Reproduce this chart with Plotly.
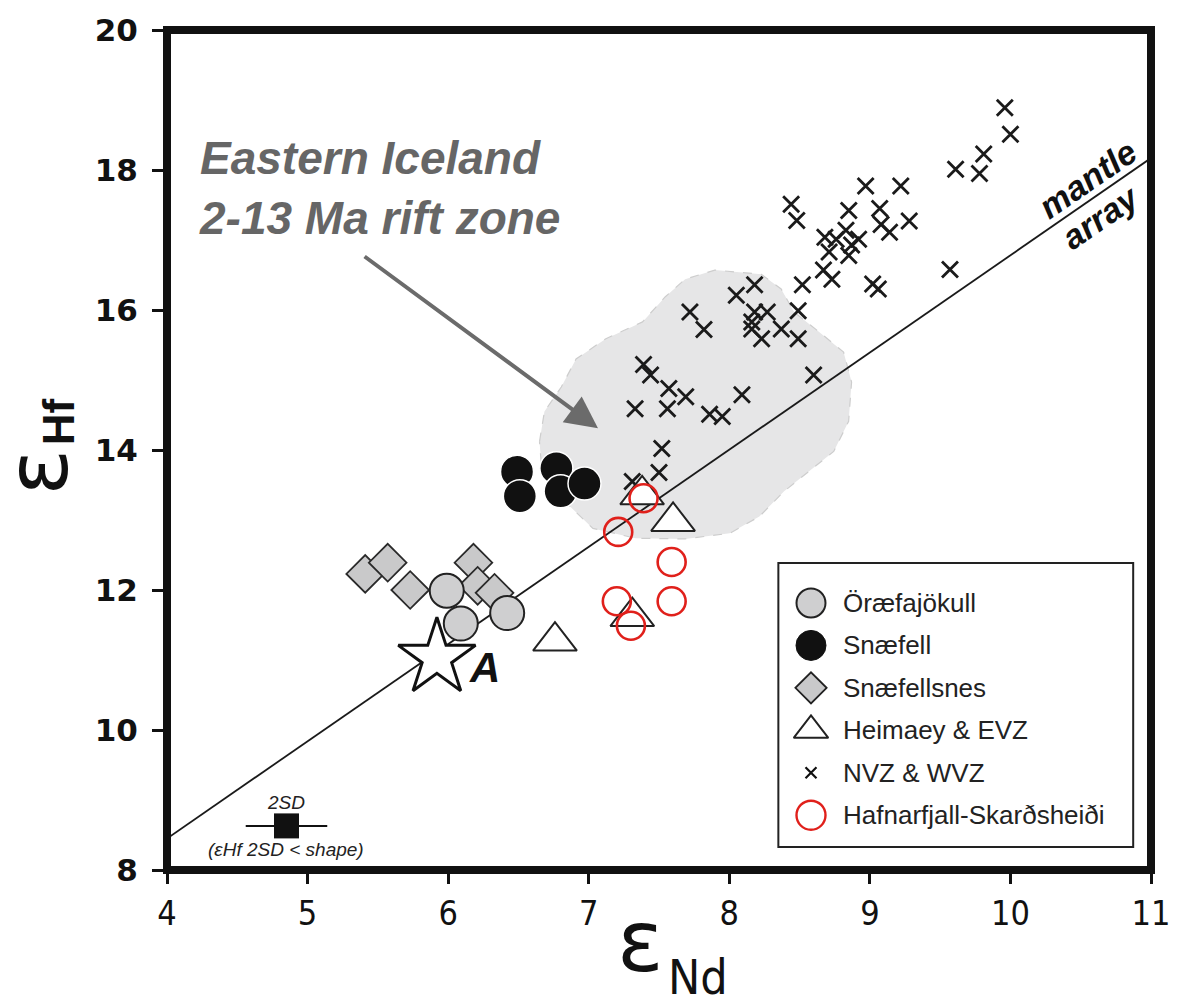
import plotly.graph_objects as go

# ---------------- data ----------------
# NVZ & WVZ (crosses)
nvz_x = [9.96, 10.00, 9.81, 9.78, 9.61, 8.97, 9.22, 8.44, 8.48, 8.85, 9.07, 9.08, 9.14, 9.28,
         8.68, 8.76, 8.83, 8.92, 8.87, 8.71, 8.85, 8.67, 8.73, 9.02, 9.06, 9.57, 8.52, 8.18,
         8.05, 7.72, 7.82, 8.18, 8.27, 8.16, 8.16, 8.23, 8.37, 8.49, 8.49, 7.39, 7.44, 8.60,
         7.57, 7.69, 7.33, 7.56, 8.09, 7.86, 7.95, 7.52, 7.50, 7.31]
nvz_y = [18.89, 18.51, 18.23, 17.95, 18.01, 17.77, 17.77, 17.51, 17.28, 17.42, 17.45, 17.22, 17.11, 17.27,
         17.04, 17.01, 17.14, 17.01, 16.93, 16.83, 16.78, 16.57, 16.44, 16.37, 16.30, 16.58, 16.36, 16.36,
         16.21, 15.97, 15.72, 15.97, 15.97, 15.83, 15.73, 15.59, 15.73, 15.99, 15.59, 15.22, 15.07, 15.07,
         14.88, 14.76, 14.59, 14.59, 14.79, 14.51, 14.48, 14.02, 13.68, 13.55]

# Snæfell (black circles)
snaefell_x = [6.49, 6.51, 6.77, 6.80, 6.97]
snaefell_y = [13.69, 13.34, 13.74, 13.41, 13.52]

# Öræfajökull (grey circles)
oraefa_x = [5.99, 6.09, 6.42]
oraefa_y = [11.99, 11.52, 11.67]

# Snæfellsnes (grey diamonds)
snes_x = [5.41, 5.57, 5.73, 6.18, 6.21, 6.33]
snes_y = [12.23, 12.39, 12.00, 12.39, 12.06, 11.96]

# Heimaey & EVZ (open triangles)
heim_x = [7.38, 7.60, 7.31, 6.76]
heim_y = [13.36, 12.98, 11.62, 11.27]

# Hafnarfjall-Skarðsheiði (red open circles)
haf_x = [7.39, 7.21, 7.59, 7.20, 7.59, 7.30]
haf_y = [13.31, 12.83, 12.40, 11.84, 11.84, 11.49]

# Star "A"
star_x = [5.92]
star_y = [11.03]

# Mantle array
mantle_x = [4.0, 11.0]
mantle_y = [8.45, 18.17]

# Eastern Iceland 2-13 Ma rift zone field (outline)
blob_x = [6.650, 6.685, 6.805, 6.910, 7.122, 7.383, 7.545, 7.686, 7.897, 8.228, 8.369, 8.461,
          8.637, 8.813, 8.870, 8.849, 8.743, 8.567, 8.390, 8.214, 8.003, 7.686, 7.333, 7.030,
          6.791, 6.664, 6.650]
blob_y = [14.12, 14.55, 14.90, 15.30, 15.59, 15.83, 16.19, 16.44, 16.57, 16.51, 16.30, 15.97,
          15.69, 15.40, 14.97, 14.41, 13.98, 13.69, 13.41, 13.05, 12.81, 12.73, 12.74, 12.88,
          13.34, 13.77, 14.12]

# 2SD error symbol
sd_x = [4.85]
sd_y = [8.63]
sd_err = [0.29]

x_ticks = [4, 5, 6, 7, 8, 9, 10, 11]
y_ticks = [8, 10, 12, 14, 16, 18, 20]

legend_names = ["Öræfajökull", "Snæfell", "Snæfellsnes", "Heimaey & EVZ", "NVZ & WVZ",
                "Hafnarfjall-Skarðsheiði"]

SANS = "Liberation Sans, Arial, sans-serif"
NARROW = "Liberation Sans Narrow, Arial Narrow, DejaVu Sans Condensed, Liberation Sans, sans-serif"

# ---------------- figure ----------------
fig = go.Figure()

fig.add_trace(go.Scatter(x=blob_x, y=blob_y, mode="lines", fill="toself", fillcolor="#e6e6e7",
                         line=dict(color="#cdcdcd", width=1.2, dash="dash"), hoverinfo="skip"))
fig.add_trace(go.Scatter(x=mantle_x, y=mantle_y, mode="lines",
                         line=dict(color="#1a1a1a", width=1.8)))
fig.add_trace(go.Scatter(x=nvz_x, y=nvz_y, mode="markers", name=legend_names[4],
                         marker=dict(symbol="x-thin", size=16, line=dict(color="#1a1a1a", width=2.8))))
fig.add_trace(go.Scatter(x=heim_x, y=heim_y, mode="markers", name=legend_names[3],
                         marker=dict(symbol="triangle-up", size=38, color="white",
                                     line=dict(color="#222", width=2))))
fig.add_trace(go.Scatter(x=haf_x, y=haf_y, mode="markers", name=legend_names[5],
                         marker=dict(symbol="circle-open", size=28, color="#e0201b",
                                     line=dict(color="#e0201b", width=2.6))))
fig.add_trace(go.Scatter(x=snaefell_x, y=snaefell_y, mode="markers", name=legend_names[1],
                         marker=dict(symbol="circle", size=33, color="#111",
                                     line=dict(color="white", width=1.5))))
fig.add_trace(go.Scatter(x=snes_x, y=snes_y, mode="markers", name=legend_names[2],
                         marker=dict(symbol="diamond", size=29, color="#c9c9ca",
                                     line=dict(color="#2a2a2a", width=1.8))))
fig.add_trace(go.Scatter(x=oraefa_x, y=oraefa_y, mode="markers", name=legend_names[0],
                         marker=dict(symbol="circle", size=34, color="#cfcfd0",
                                     line=dict(color="#222", width=2))))
fig.add_trace(go.Scatter(x=star_x, y=star_y, mode="markers",
                         marker=dict(symbol="star", size=58, color="white",
                                     line=dict(color="#111", width=3))))
fig.add_trace(go.Scatter(x=sd_x, y=sd_y, mode="markers",
                         marker=dict(symbol="square", size=25, color="#111"),
                         error_x=dict(type="data", array=sd_err, width=0, thickness=2, color="#111")))

# ---------------- custom legend (own axes) ----------------
leg_rows = [5.75 - i for i in range(6)]
leg_mx = 0.092
leg_specs = [
    dict(symbol="circle", size=29, color="#cfcfd0", line=dict(color="#222", width=2)),
    dict(symbol="circle", size=30, color="#111", line=dict(color="#111", width=1)),
    dict(symbol="diamond", size=24, color="#c9c9ca", line=dict(color="#222", width=1.8)),
    dict(symbol="triangle-up", size=30, color="white", line=dict(color="#222", width=2)),
    dict(symbol="x-thin", size=11, line=dict(color="#111", width=2.2)),
    dict(symbol="circle-open", size=29, color="#e0201b", line=dict(color="#e0201b", width=2.4)),
]
for row, spec in zip(leg_rows, leg_specs):
    fig.add_trace(go.Scatter(x=[leg_mx], y=[row], mode="markers", marker=spec,
                             xaxis="x2", yaxis="y2", hoverinfo="skip"))

annotations = []
for row, name in zip(leg_rows, legend_names):
    annotations.append(dict(x=0.176, y=row, xref="x2", yref="y2", text=name, showarrow=False,
                            xanchor="left", yanchor="middle",
                            font=dict(family=SANS, size=26, color="#222")))

# ---------------- annotations ----------------
annotations += [
    dict(x=0.0302, y=0.812, xref="paper", yref="paper", xanchor="left", yanchor="middle",
         align="left", showarrow=False,
         text="<b><i>Eastern Iceland<br>2-13 Ma rift zone</i></b>",
         font=dict(family=SANS, size=46, color="#666666")),
    dict(x=7.066, y=14.31, ax=5.395, ay=16.78, xref="x", yref="y", axref="x", ayref="y",
         text="", showarrow=True, arrowhead=2, arrowsize=1.6, arrowwidth=4, arrowcolor="#6b6b6b"),
    dict(x=10.55, y=17.87, xref="x", yref="y", text="<b><i>mantle</i></b>", showarrow=False,
         textangle=-34.5, font=dict(family=SANS, size=34, color="#111")),
    dict(x=10.64, y=17.33, xref="x", yref="y", text="<b><i>array</i></b>", showarrow=False,
         textangle=-34.5, font=dict(family=SANS, size=34, color="#111")),
    dict(x=star_x[0], y=star_y[0], xref="x", yref="y", xshift=48, yshift=-10,
         text="<b><i>A</i></b>", showarrow=False,
         font=dict(family=SANS, size=42, color="#111")),
    dict(x=sd_x[0], y=sd_y[0], xref="x", yref="y", yshift=23, text="<i>2SD</i>", showarrow=False,
         font=dict(family=SANS, size=19, color="#222")),
    dict(x=sd_x[0], y=sd_y[0], xref="x", yref="y", yshift=-24, text="<i>(εHf 2SD &lt; shape)</i>",
         showarrow=False, font=dict(family=SANS, size=19, color="#222")),
    # axis titles
    dict(x=0.4814, y=-0.147, xref="paper", yref="paper", text="ε", showarrow=False,
         font=dict(family="DejaVu Sans, sans-serif", size=86, color="#111")),
    dict(x=0.5400, y=-0.163, xref="paper", yref="paper", text="Nd", showarrow=False,
         font=dict(family=NARROW, size=48, color="#111")),
    dict(x=-0.185, y=0.4745, xref="paper", yref="paper", text="ε", showarrow=False, textangle=-90,
         font=dict(family="DejaVu Sans, sans-serif", size=86, color="#111")),
    dict(x=-0.137, y=0.5338, xref="paper", yref="paper", text="<b>Hf</b>", showarrow=False,
         textangle=-90, font=dict(family=SANS, size=44, color="#111")),
]

shapes = [
    dict(type="rect", xref="paper", yref="paper", x0=0, x1=1, y0=0, y1=1,
         line=dict(color="#111", width=8), layer="above"),
    dict(type="rect", xref="paper", yref="paper", x0=0.6213, x1=0.9819, y0=0.0273, y1=0.3654,
         line=dict(color="#222", width=2), layer="above"),
]

fig.update_layout(
    width=1182, height=1002,
    margin=dict(l=167, r=22, t=27, b=132),
    paper_bgcolor="white", plot_bgcolor="white",
    showlegend=False,
    xaxis=dict(range=[4, 11], tickvals=x_ticks, ticks="outside", ticklen=13, tickwidth=3,
               tickcolor="#111", showgrid=False, zeroline=False, showline=False,
               tickfont=dict(family=NARROW, size=34, color="#111")),
    yaxis=dict(range=[8, 20], tickvals=y_ticks, ticks="outside", ticklen=14, tickwidth=3,
               tickcolor="#111", showgrid=False, zeroline=False, showline=False,
               ticklabelstandoff=8,
               tickfont=dict(family="DejaVu Sans, sans-serif", size=31, color="#111", weight="bold")),
    xaxis2=dict(domain=[0.6213, 0.9819], range=[0, 1], visible=False, anchor="y2"),
    yaxis2=dict(domain=[0.0273, 0.3654], range=[0, 6.69], visible=False, anchor="x2"),
    annotations=annotations,
    shapes=shapes,
)

fig.write_html("out.html")
